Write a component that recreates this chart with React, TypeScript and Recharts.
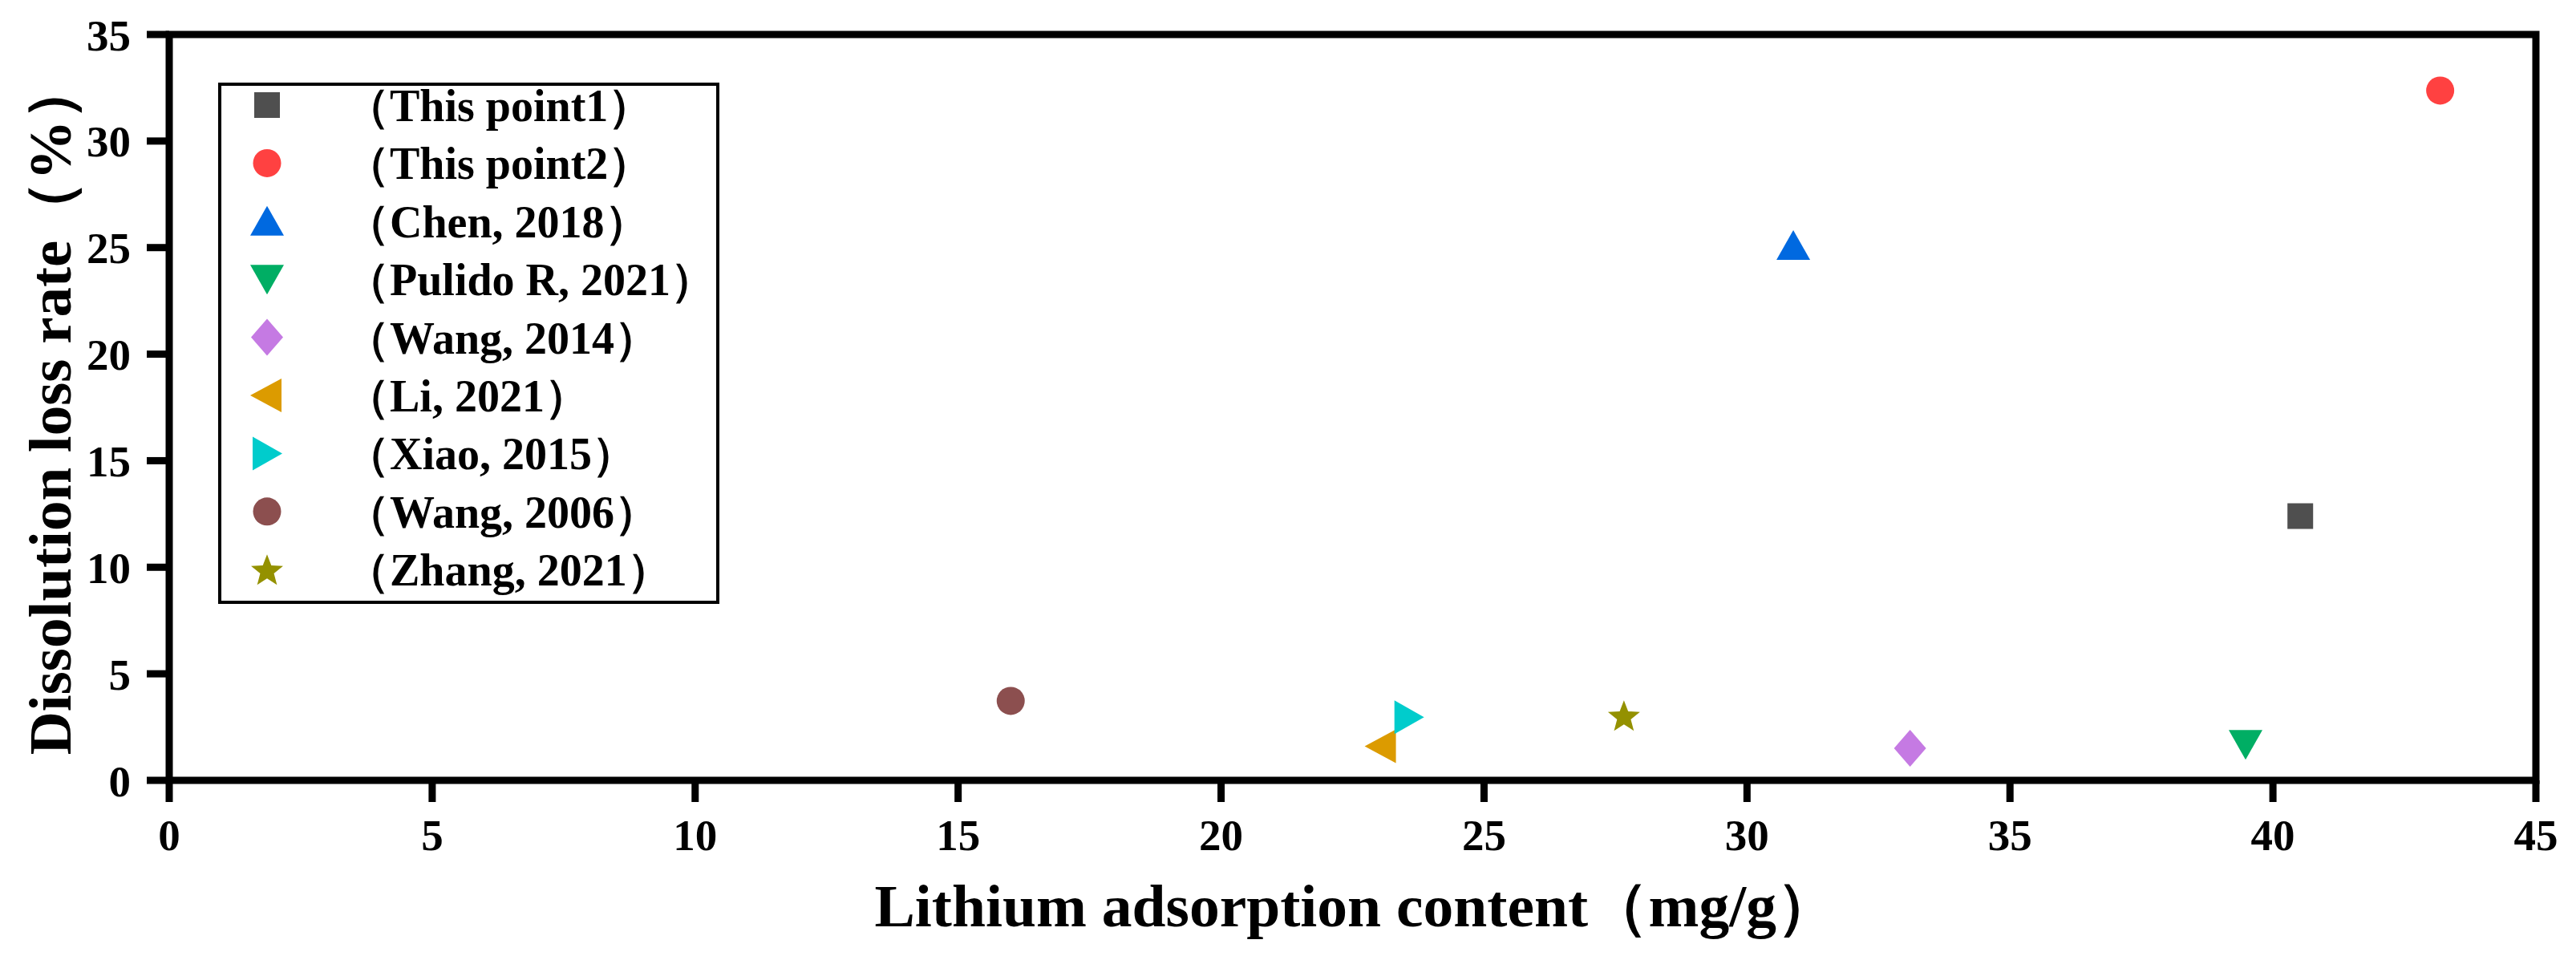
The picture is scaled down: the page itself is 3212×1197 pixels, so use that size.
import { Legend, ReferenceArea, Scatter, ScatterChart, XAxis, YAxis } from "recharts";

const seriesNames = [
  "（This point1）",
  "（This point2）",
  "（Chen, 2018）",
  "（Pulido R, 2021）",
  "（Wang, 2014）",
  "（Li, 2021）",
  "（Xiao, 2015）",
  "（Wang, 2006）",
  "（Zhang, 2021）",
];
const adsorption = [40.52, 43.18, 30.88, 39.48, 33.1, 23.05, 23.57, 16.0, 27.66];
const lossRate = [12.4, 32.37, 25.1, 1.68, 1.51, 1.6, 2.96, 3.73, 3.04];
const xTicks = [0, 5, 10, 15, 20, 25, 30, 35, 40, 45];
const yTicks = [0, 5, 10, 15, 20, 25, 30, 35];

const markerColors = [
  "#4f4f4f",
  "#ff4141",
  "#0069e0",
  "#00ae64",
  "#c57ae3",
  "#dc9b00",
  "#00cccc",
  "#8c4f4f",
  "#949100",
];
const markerKinds = ["square", "circle", "up", "down", "diamond", "left", "right", "circle", "star"];

const serif = "'Times New Roman', 'Liberation Serif', serif";

type MarkerProps = { kind: string; cx: number; cy: number; fill: string };

function Marker({ kind, cx, cy, fill }: MarkerProps) {
  const pts = (list: number[][]) => list.map(([dx, dy]) => `${cx + dx},${cy + dy}`).join(" ");
  switch (kind) {
    case "square":
      return <rect x={cx - 16} y={cy - 16} width={32} height={32} fill={fill} />;
    case "circle":
      return <circle cx={cx} cy={cy} r={17.5} fill={fill} />;
    case "up":
      return <polygon points={pts([[0, -19], [-21, 18], [21, 18]])} fill={fill} />;
    case "down":
      return <polygon points={pts([[0, 19], [-21, -18], [21, -18]])} fill={fill} />;
    case "left":
      return <polygon points={pts([[-21, 0], [18, -21], [18, 21]])} fill={fill} />;
    case "right":
      return <polygon points={pts([[19, 0], [-18, -21], [-18, 21]])} fill={fill} />;
    case "diamond":
      return <polygon points={pts([[0, -23], [20, 0], [0, 23], [-20, 0]])} fill={fill} />;
    case "star": {
      const list: number[][] = [];
      for (let i = 0; i < 10; i++) {
        const r = i % 2 === 0 ? 21 : 9;
        const a = -Math.PI / 2 + (i * Math.PI) / 5;
        list.push([r * Math.cos(a), r * Math.sin(a) + 2]);
      }
      return <polygon points={pts(list)} fill={fill} />;
    }
    default:
      return null;
  }
}

function LegendBox({ payload }: { payload?: any[] }) {
  const items = [...(payload || [])].sort(
    (a, b) => seriesNames.indexOf(a.value) - seriesNames.indexOf(b.value)
  );
  return (
    <svg width={625} height={650} style={{ display: "block", overflow: "visible" }}>
      <rect x={2} y={2} width={621} height={646} fill="#fff" stroke="#000" strokeWidth={4} />
      {items.map((entry, i) => {
        const idx = seriesNames.indexOf(entry.value);
        const cy = 28 + i * 72.4;
        return (
          <g key={entry.value}>
            <Marker kind={markerKinds[idx]} cx={61} cy={cy} fill={markerColors[idx]} />
            <text x={158} y={cy + 20} fontSize={56} fontWeight="bold" fontFamily={serif} fill="#000">
              {entry.value}
            </text>
          </g>
        );
      })}
    </svg>
  );
}

function XTitle({ viewBox }: any) {
  return (
    <text
      x={viewBox.x + viewBox.width / 2 + 4}
      y={viewBox.y + 182}
      textAnchor="middle"
      fontSize={75}
      fontWeight="bold"
      fontFamily={serif}
      fill="#000"
      textLength={1200}
      lengthAdjust="spacingAndGlyphs"
    >
      Lithium adsorption content（mg/g）
    </text>
  );
}

function YTitle({ viewBox }: any) {
  const cx = viewBox.x + 88;
  const cy = viewBox.y + viewBox.height / 2;
  return (
    <text
      transform={`translate(${cx},${cy}) rotate(-90)`}
      textAnchor="middle"
      fontSize={75}
      fontWeight="bold"
      fontFamily={serif}
      fill="#000"
    >
      Dissolution loss rate（%）
    </text>
  );
}

const tickStyle = { fill: "#000", fontSize: 55, fontWeight: 700, fontFamily: serif };

export default function App() {
  return (
    <div style={{ position: "absolute", left: 0, top: 0, background: "#fff" }}>
      <ScatterChart width={3212} height={1197} margin={{ top: 43, right: 50, bottom: 0, left: 0 }}>
        <XAxis
          type="number"
          dataKey="x"
          domain={[0, 45]}
          ticks={xTicks}
          axisLine={false}
          tickLine={{ stroke: "#000", strokeWidth: 9 }}
          tickSize={27}
          tickMargin={21}
          tick={tickStyle}
          height={224}
          label={{ content: XTitle }}
        />
        <YAxis
          type="number"
          dataKey="y"
          domain={[0, 35]}
          ticks={yTicks}
          axisLine={false}
          tickLine={{ stroke: "#000", strokeWidth: 9 }}
          tickSize={28}
          tickMargin={20}
          tick={tickStyle}
          width={211}
          label={{ content: YTitle }}
        />
        <ReferenceArea x1={0} x2={45} y1={0} y2={35} fill="none" stroke="#000" strokeWidth={9} fillOpacity={0} />
        {seriesNames.map((name, i) => (
          <Scatter
            key={name}
            name={name}
            data={[{ x: adsorption[i], y: lossRate[i] }]}
            fill={markerColors[i]}
            isAnimationActive={false}
            shape={(p: any) => <Marker kind={markerKinds[i]} cx={p.cx} cy={p.cy} fill={markerColors[i]} />}
          />
        ))}
        <Legend
          layout="vertical"
          align="center"
          verticalAlign="middle"
          wrapperStyle={{ left: 272, top: 103, width: 625, height: 650 }}
          content={(props: any) => <LegendBox payload={props.payload} />}
        />
      </ScatterChart>
    </div>
  );
}
